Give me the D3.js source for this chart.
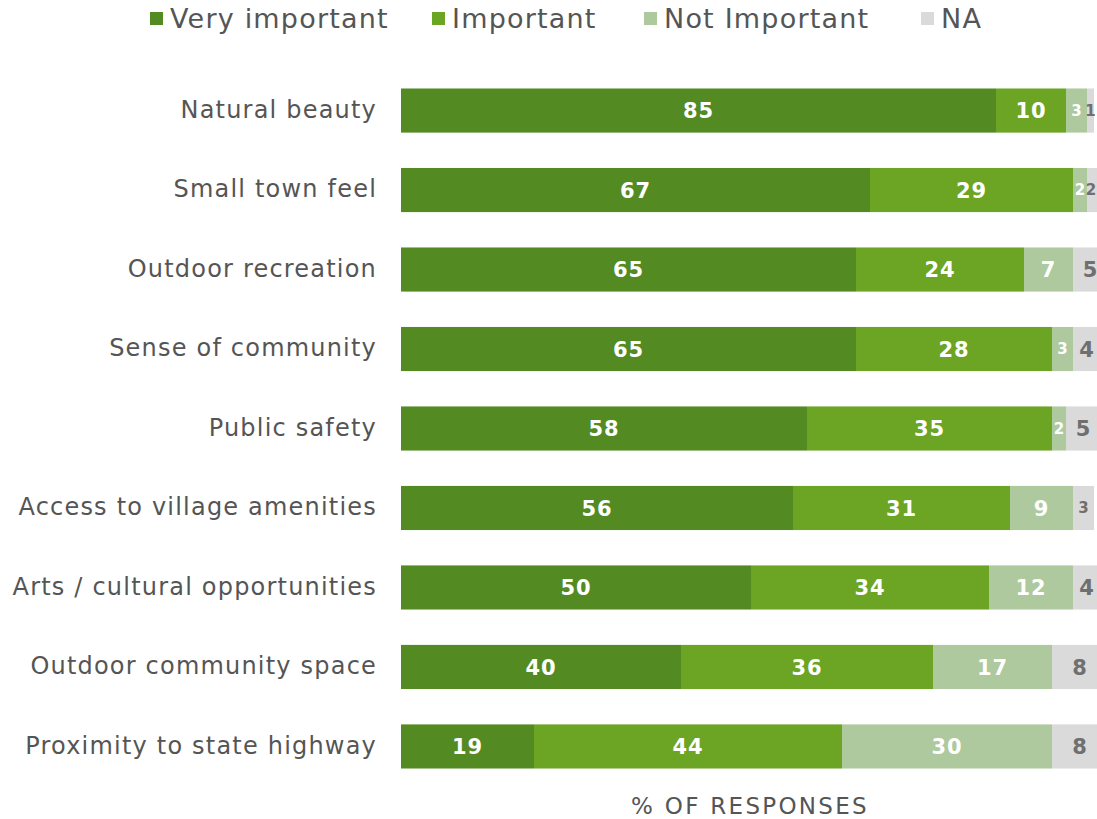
<!DOCTYPE html>
<html><head><meta charset="utf-8">
<script src="https://cdn.jsdelivr.net/npm/d3@7"></script>
<style>body{margin:0;background:#fff}svg{display:block}</style>
</head><body>
<svg id="c" width="1097" height="819"></svg>
<script>
const categories = ["Natural beauty","Small town feel","Outdoor recreation","Sense of community","Public safety","Access to village amenities","Arts / cultural opportunities","Outdoor community space","Proximity to state highway"];
const seriesNames = ["Very important","Important","Not Important","NA"];
const veryImportant = [85,67,65,65,58,56,50,40,19];
const important = [10,29,24,28,35,31,34,36,44];
const notImportant = [3,2,7,3,2,9,12,17,30];
const na = [1,2,5,4,5,3,4,8,8];
const colors = ["#538a22","#6ca423","#adc99d","#dadada"];
const labelColors = ["#fff","#fff","#fff","#6f6f6f"];
const axisTitle = "% OF RESPONSES";

const svg = d3.select("#c");
const font = "'DejaVu Sans', sans-serif";
const rows = categories.map((c,i)=>({cat:c, "Very important":veryImportant[i], "Important":important[i], "Not Important":notImportant[i], "NA":na[i]}));
const stack = d3.stack().keys(seriesNames)(rows);

const x = d3.scaleLinear().domain([0,100]).range([401,1101]);
const y = d3.scaleBand().domain(categories).range([71,786]).paddingInner(0.445).paddingOuter(0.22);

const g = svg.append("g");
stack.forEach((s,si)=>{
  const gg = g.append("g").attr("fill", colors[si]);
  gg.selectAll("rect").data(s).join("rect")
    .attr("x", d=>x(d[0])).attr("width", d=>x(d[1])-x(d[0]))
    .attr("y", d=>y(d.data.cat)).attr("height", y.bandwidth());
  g.append("g").selectAll("text").data(s).join("text")
    .attr("x", d=>Math.min((x(d[0])+x(d[1]))/2, 1091))
    .attr("y", d=>y(d.data.cat)+y.bandwidth()/2)
    .attr("dy","0.36em").attr("text-anchor","middle")
    .attr("font-family", font).attr("font-weight","bold")
    .attr("font-size",d=>(d[1]-d[0])<=3?15:21).attr("letter-spacing",d=>(d[1]-d[0])<=3?0:1)
    .attr("fill", labelColors[si])
    .text(d=>d[1]-d[0]);
});

// category axis
const yAxis = d3.axisLeft(y).tickSize(0).tickPadding(0);
const ya = svg.append("g").attr("transform","translate(377,0)").call(yAxis);
ya.select(".domain").remove();
ya.selectAll("text").attr("font-family", font).attr("font-size",24).attr("letter-spacing",1.2).attr("fill","#555").attr("dy","0.3em");

// legend
const legendX = [150,432,644,921];
const lg = svg.append("g");
seriesNames.forEach((n,i)=>{
  lg.append("rect").attr("x",legendX[i]).attr("y",12).attr("width",13).attr("height",13).attr("fill",colors[i]);
  lg.append("text").attr("x",legendX[i]+20).attr("y",19).attr("dy","0.35em")
    .attr("font-family",font).attr("font-size",27).attr("letter-spacing",1.2).attr("fill","#555").text(n);
});

svg.append("text").attr("x",750).attr("y",806).attr("dy","0.35em").attr("text-anchor","middle")
  .attr("font-family",font).attr("font-size",23).attr("letter-spacing",2.3).attr("fill","#555").text(axisTitle);
</script>
</body></html>
